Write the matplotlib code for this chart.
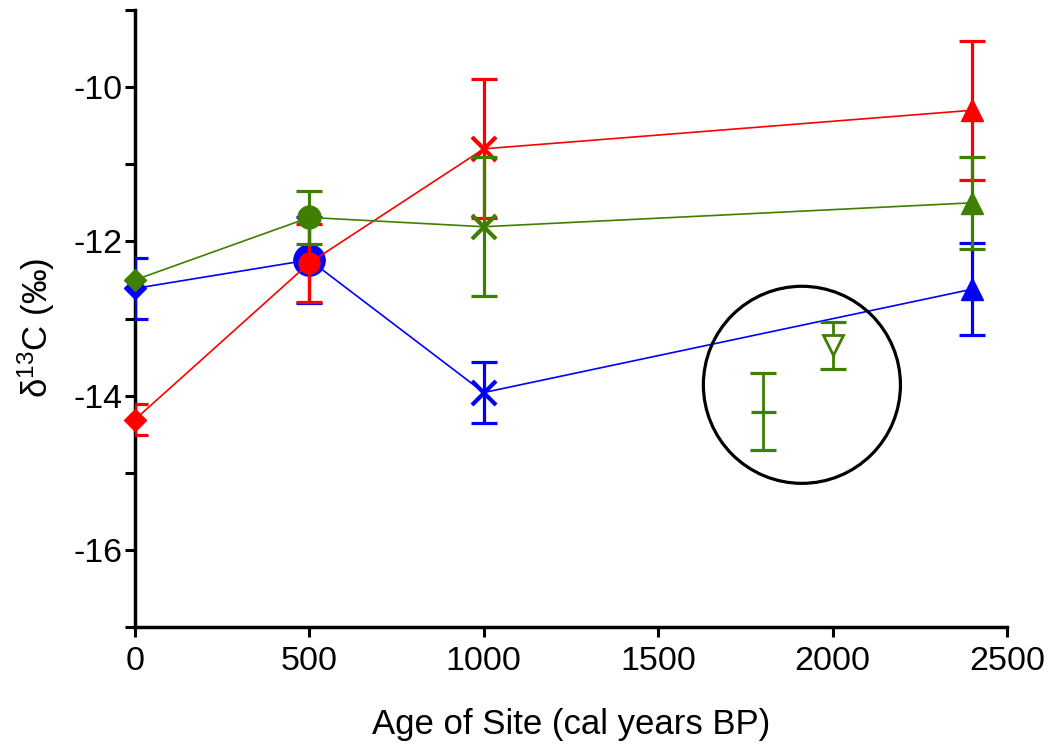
import matplotlib
matplotlib.use('Agg')
import matplotlib.pyplot as plt
from matplotlib.patches import Ellipse
from matplotlib.ticker import MultipleLocator

plt.rcParams['font.family'] = ['Liberation Sans', 'DejaVu Sans']
plt.rcParams['mathtext.fontset'] = 'custom'
plt.rcParams['mathtext.rm'] = 'Liberation Sans'
plt.rcParams['mathtext.it'] = 'Liberation Sans:italic'
plt.rcParams['mathtext.default'] = 'rm'
plt.rcParams['axes.unicode_minus'] = False

# ---------------- data ----------------
ages = [0, 500, 1000, 2400]
blue_vals = [-12.61, -12.24, -13.96, -12.62]
blue_err = [0.40, 0.56, 0.40, 0.60]
red_vals = [-14.31, -12.28, -10.80, -10.30]
red_err = [0.20, 0.51, 0.90, 0.90]
green_vals = [-12.50, -11.69, -11.81, -11.50]
green_err = [0.0, 0.34, 0.90, 0.60]

extra_x = [1800, 2000]
extra_vals = [-14.21, -13.35]
extra_err = [0.50, 0.30]

# ---------------- styles ----------------
BLUE = '#0000ff'
RED = '#ff0000'
GREEN = '#3f7f00'
point_markers = ['D', 'o', 'x', '^']
marker_sizes = {
    'blue': [11.2, 22.5, 17, 15.5],
    'red': [11.2, 15, 17, 15.5],
    'green': [11.2, 16.5, 17, 15.5],
}
ELW = 2.3
CAP = 9.7

fig = plt.figure(figsize=(10.48, 7.47), dpi=100)
ax = fig.add_axes([135/1048, 1 - 627/747, (1007-135)/1048, (627-10)/747])

series = [('blue', BLUE, blue_vals, blue_err),
          ('red', RED, red_vals, red_err),
          ('green', GREEN, green_vals, green_err)]


def set_caps(caps, w):
    for c in caps:
        c.set_markeredgewidth(w)


z = 3
for name, col, vals, errs in series:
    ax.plot(ages, vals, color=col, lw=1.2, zorder=z)
    for i, (xv, yv, ev) in enumerate(zip(ages, vals, errs)):
        m = point_markers[i]
        ms = marker_sizes[name][i]
        dl, caps, bars = ax.errorbar([xv], [yv], yerr=[ev] if ev > 0 else None,
                                     fmt=m, color=col, ms=ms,
                                     mfc=col, mec=col,
                                     elinewidth=ELW, capsize=CAP, capthick=ELW,
                                     zorder=z + 0.5)
        dl.set_markeredgewidth(3 if m == 'x' else 1)
        set_caps(caps, ELW)
        dl.set_clip_on(False)
    z += 1

# extra green points (no connecting line)
dl, caps, bars = ax.errorbar([extra_x[0]], [extra_vals[0]], yerr=[extra_err[0]],
                             fmt='_', color=GREEN, ms=18,
                             elinewidth=2.0, capsize=CAP, capthick=2.3, zorder=7)
dl.set_markeredgewidth(2.3)
set_caps(caps, 2.3)
dl, caps, bars = ax.errorbar([extra_x[1]], [extra_vals[1]], yerr=[extra_err[1]],
                             fmt='v', color=GREEN, ms=15,
                             mfc='white', mec=GREEN,
                             elinewidth=2.0, capsize=CAP, capthick=2.3, zorder=7)
dl.set_markeredgewidth(2.0)
set_caps(caps, 2.3)

ax.add_patch(Ellipse((1912, -13.86), 565, 2.555, fill=False, ec='black',
                     lw=2.3, zorder=8))

ax.set_xlim(0, 2500)
ax.set_ylim(-17, -9)
ax.set_xticks([0, 500, 1000, 1500, 2000, 2500])
ax.set_yticks([-10, -12, -14, -16])
ax.yaxis.set_minor_locator(MultipleLocator(1))

for s in ['top', 'right']:
    ax.spines[s].set_visible(False)
for s in ['left', 'bottom']:
    ax.spines[s].set_linewidth(2.5)

ax.tick_params(axis='both', which='both', direction='out', length=7, width=2.2,
               labelsize=24.5)
ax.tick_params(axis='x', pad=7)
ax.tick_params(axis='y', pad=2)

ax.set_xlabel('Age of Site (cal years BP)', fontsize=25, labelpad=22)
ax.set_ylabel('δ$^{13}$C (‰)', fontsize=25)
ax.yaxis.set_label_coords(-0.0894, 0.485)

fig.savefig('out.png', dpi=100)
